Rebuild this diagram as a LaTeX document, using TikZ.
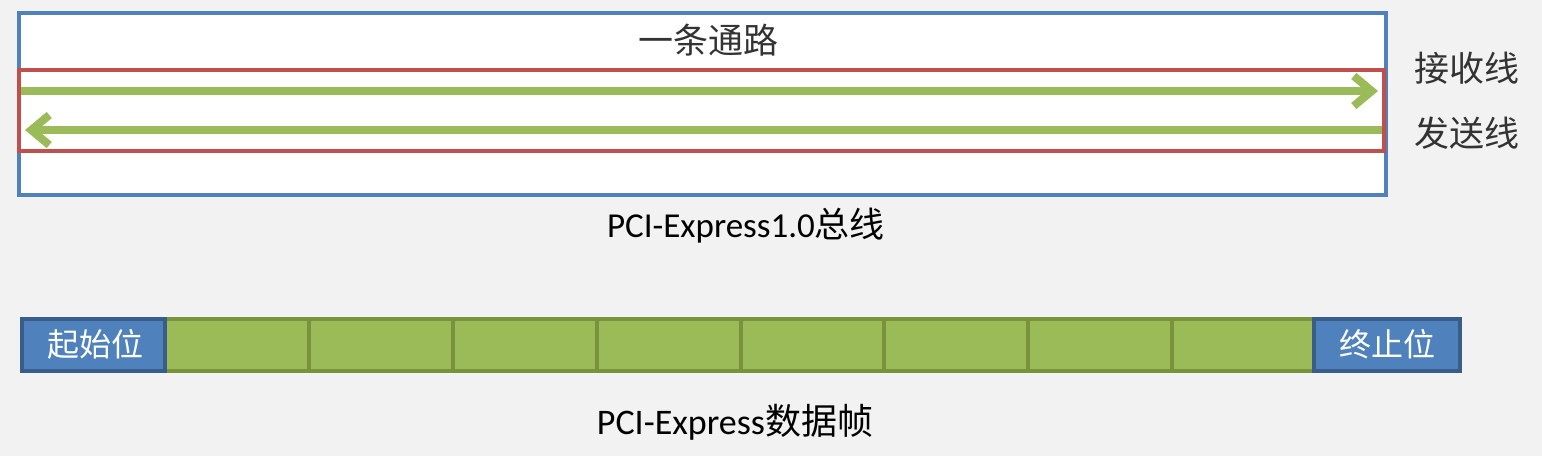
\documentclass[tikz,border=0pt]{standalone}
\usepackage{fontspec}
\setmainfont{Carlito}
\newfontfamily\cjk{Noto Sans CJK SC}
\usetikzlibrary{arrows.meta}
\definecolor{bg}{HTML}{F2F2F2}
\definecolor{obl}{HTML}{4F81BD}
\definecolor{ored}{HTML}{C0504D}
\definecolor{ogr}{HTML}{9BBB59}
\definecolor{dgr}{HTML}{77933C}
\definecolor{dbl}{HTML}{385D8A}
\begin{document}
\begin{tikzpicture}[x=1pt,y=-1pt,
  lbl/.style={font=\fontsize{35}{38}\selectfont, inner sep=0pt, text=black!80},
  wire/.style={draw=ogr, line width=8pt, -{Straight Barb[length=18pt,width=30pt,line width=8pt]}},
  bitcell/.style={draw=dgr, fill=ogr, line width=3.5pt},
  endcell/.style={draw=dbl, fill=obl, line width=3.5pt, text=white, font=\fontsize{32}{35}\selectfont\cjk, inner sep=0pt}
]
\useasboundingbox[fill=bg] (0,0) rectangle (1542,456);
% outer lane box
\draw[obl, line width=3.5pt, fill=white] (19,13) rectangle (1386,195);
\node[lbl] (lane) at (708,40) {\cjk 一条通路};
% red pair box
\draw[ored, line width=3.5pt] (19,70) rectangle (1384,151);
\coordinate (rxL) at (21,91);
\coordinate (rxR) at (1378,91);
\coordinate (txR) at (1382,130);
\coordinate (txL) at (25,130);
\draw[wire] (rxL) -- (rxR);
\draw[wire] (txR) -- (txL);
\node[lbl] (rx) at (1467,68) {\cjk 接收线};
\node[lbl] (tx) at (1467,133) {\cjk 发送线};
\node[lbl, text=black] (bus) at (746,226) {PCI-Express1.0{\cjk 总线}};
% frame
\foreach \a/\b [count=\i] in {165/309,309/453,453/597,597/741,741/884,884/1028,1028/1172,1172/1314}{
  \draw[bitcell] (\a,319) rectangle (\b,371);
}
\draw[endcell] (22,319) rectangle (165,371);
\node[endcell, draw=none, fill=none] (start) at (95,344) {起始位};
\draw[endcell] (1314,319) rectangle (1460,371);
\node[endcell, draw=none, fill=none] (stop) at (1387,344) {终止位};
\node[lbl, text=black, font=\fontsize{36}{39}\selectfont] (frame) at (735,422) {PCI-Express{\cjk 数据帧}};
\end{tikzpicture}
\end{document}
